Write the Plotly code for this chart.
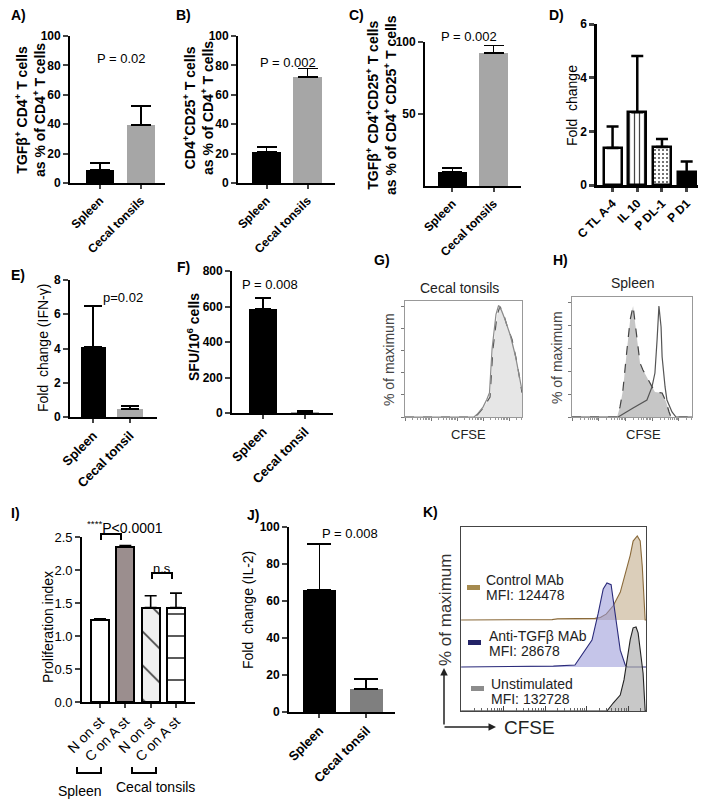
import numpy as np
import plotly.graph_objects as go

FONT = "Liberation Sans, Arial, sans-serif"
# the page body has an 8 px margin, so the figure is 8 px smaller than the window
PAD = 8
W, H = 706 - PAD, 799 - PAD

# ---- bar panel data ----
a_cats = ["Spleen", "Cecal tonsils"]
a_vals = [9.1, 39.3]
a_err = [4.3, 13.0]

b_cats = ["Spleen", "Cecal tonsils"]
b_vals = [20.9, 72.3]
b_err = [3.6, 5.6]

c_cats = ["Spleen", "Cecal tonsils"]
c_vals = [10.0, 92.3]
c_err = [2.7, 5.3]

d_cats = ["C TL A-4", "IL 10", "P DL-1", "P D1"]
d_vals = [1.38, 2.71, 1.42, 0.47]
d_err = [0.80, 2.10, 0.29, 0.41]

e_cats = ["Spleen", "Cecal tonsil"]
e_vals = [4.1, 0.47]
e_err = [2.4, 0.19]

f_cats = ["Spleen", "Cecal tonsil"]
f_vals = [586, 5]
f_err = [64, 8]

i_cats = ["N on st", "C on A st", "N on st", "C on A st"]
i_vals = [1.24, 2.35, 1.43, 1.43]
i_err = [0.02, 0.02, 0.18, 0.22]

j_cats = ["Spleen", "Cecal tonsil"]
j_vals = [66.0, 12.3]
j_err = [24.8, 5.4]

# ---- CFSE histograms: log10 intensity vs % of maximum ----
g_dash_logx = [1.0, 3.69, 3.81, 4.0, 4.19, 4.27, 4.38, 4.54, 4.65, 4.77, 4.92, 5.12, 5.31, 5.46, 5.5]
g_dash_y = [0, 0, 2.7, 8, 15, 18, 61, 92, 100, 95, 83, 70, 49, 27, 22]
g_solid_logx = [1.0, 3.65, 3.80, 4.0, 4.15, 4.25, 4.35, 4.50, 4.60, 4.70, 4.85, 5.05, 5.25, 5.45, 5.5]
g_solid_y = [0, 0, 3, 9, 16, 22, 62, 93, 101, 97, 88, 74, 55, 30, 24]

h_dash_logx = [1.0, 2.69, 2.80, 2.91, 3.06, 3.18, 3.29, 3.40, 3.44, 3.55, 3.66, 3.85, 4.11, 4.38, 4.53, 4.64, 4.71, 5.5]
h_dash_y = [0, 0, 8.8, 23.6, 58.6, 84.9, 97.1, 76.1, 70, 47.3, 41.1, 32.4, 21.9, 21, 13.1, 4.4, 0, 0]
h_solid_logx = [1.0, 2.73, 3.29, 3.81, 4.0, 4.11, 4.19, 4.23, 4.26, 4.34, 4.38, 4.49, 4.56, 4.75, 4.90, 5.5]
h_solid_y = [0, 0, 7.9, 14.9, 26.3, 38.5, 67.4, 93.6, 97.1, 78.8, 52.5, 26.3, 14.9, 4.4, 0, 0]

k_ctrl_logx = [0.98, 3.17, 3.3, 3.80, 3.96, 4.20, 4.33, 4.47, 4.64, 4.81, 5.05, 5.12, 5.22, 5.29, 5.34, 5.41, 5.43]
k_ctrl_y = [0, 0.5, 1.5, 1.5, 2, 2, 3, 7, 17, 33, 77, 94, 100, 94, 64, 0, 0]
k_anti_logx = [0.98, 2.71, 3.2, 3.72, 3.96, 4.13, 4.28, 4.40, 4.49, 4.59, 4.64, 4.73, 4.81, 4.93, 4.98, 5.43]
k_anti_y = [0, 1, 1, 2.4, 20, 32, 64, 93, 100, 98, 80, 48, 20, 2.4, 0, 0]
k_unst_logx = [0.98, 4.49, 4.64, 4.81, 4.90, 4.98, 5.05, 5.12, 5.19, 5.24, 5.31, 5.36, 5.41, 5.43]
k_unst_y = [0, 0, 9.5, 19, 37, 61, 85, 99, 100, 93, 61, 45, 0, 0]

k_labels = [("Control MAb", "MFI: 124478"), ("Anti-TGF\u03b2 MAb", "MFI: 28678"), ("Unstimulated", "MFI: 132728")]


def fx(px):
    return (px - PAD) / W


def fy(py):
    return 1 - (py - PAD) / H


fig = go.Figure()
layout = {}
annotations = []
shapes = []


def note(text, x, y, size=13, bold=False, angle=0, xanchor="center", color="black"):
    annotations.append(dict(text=text, x=fx(x), y=fy(y), xref="paper", yref="paper",
                            showarrow=False, textangle=angle, xanchor=xanchor, yanchor="middle",
                            font=dict(family=FONT, size=size, color=color,
                                      weight="bold" if bold else "normal")))


def bar_panel(n, cats, vals, err, box, xr, yr, yticks, colors, bw, cap,
              lw=1.8, tickbold=True, xsize=12, ysize=12, yfmt=None, outline=0, pattern=None):
    x0, x1, ytop, ybot = box
    sfx = "" if n == 1 else str(n)
    xs = list(range(len(cats)))
    marker = dict(color=colors, line=dict(color="black", width=outline))
    if pattern:
        marker["pattern"] = pattern
    fig.add_trace(go.Bar(
        x=xs, y=vals, width=bw, marker=marker,
        error_y=dict(type="data", array=err, arrayminus=[0] * len(err), symmetric=False,
                     color="black", thickness=lw, width=cap),
        xaxis="x" + sfx, yaxis="y" + sfx,
    ))
    wt = "bold" if tickbold else "normal"
    layout["xaxis" + sfx] = dict(
        domain=[fx(x0), fx(x1)], range=xr, anchor="y" + sfx, automargin=False,
        tickvals=xs, ticktext=cats, tickangle=-45,
        tickfont=dict(family=FONT, size=xsize, color="black", weight=wt),
        showline=True, linecolor="black", linewidth=lw, ticks="outside",
        ticklen=4, tickwidth=lw, showgrid=False, zeroline=False,
    )
    ya = dict(
        domain=[fy(ybot), fy(ytop)], range=yr, anchor="x" + sfx, tickvals=yticks,
        automargin=False,
        tickfont=dict(family=FONT, size=ysize, color="black", weight=wt),
        showline=True, linecolor="black", linewidth=lw, ticks="outside",
        ticklen=5, tickwidth=lw, showgrid=False, zeroline=False,
    )
    if yfmt:
        ya["tickformat"] = yfmt
    layout["yaxis" + sfx] = ya


GRAY = "#a6a6a6"

# A, B, C
bar_panel(1, a_cats, a_vals, a_err, (70, 165, 36, 183), [-0.73, 1.59], [0, 100],
          [0, 20, 40, 60, 80, 100], ["black", GRAY], 0.68, 10)
bar_panel(2, b_cats, b_vals, b_err, (238, 335, 36, 183), [-0.695, 1.67], [0, 100],
          [0, 20, 40, 60, 80, 100], ["black", GRAY], 0.71, 10)
bar_panel(3, c_cats, c_vals, c_err, (425, 521, 42, 186), [-0.67, 1.67], [0, 100],
          [50, 100], ["black", GRAY], 0.71, 10)
# D
bar_panel(4, d_cats, d_vals, d_err, (597, 701, 24, 185), [-0.63, 3.58], [0, 6],
          [0, 2, 4, 6], ["white", "white", "white", "black"], 0.73, 6, lw=2.5, outline=2.5,
          pattern=dict(shape=["", "|", ".", ""], size=[5, 5, 4, 5], solidity=[0.2, 0.25, 0.2, 0.2],
                       fillmode="overlay", fgcolor="black", fgopacity=1))
# E, F
bar_panel(5, e_cats, e_vals, e_err, (70, 157, 280, 417), [-0.64, 1.74], [0, 8],
          [0, 2, 4, 6, 8], ["black", "#a9a9a9"], 0.70, 9, xsize=13)
bar_panel(6, f_cats, f_vals, f_err, (232, 333, 271, 413), [-0.74, 1.67], [0, 800],
          [0, 200, 400, 600, 800], ["black", "#aaaaaa"], 0.67, 8, xsize=13)
# I
bar_panel(9, i_cats, i_vals, i_err, (82, 195, 537, 702), [-0.71, 3.75], [0, 2.5],
          [0, 0.5, 1.0, 1.5, 2.0, 2.5], ["white", "#9b8e8e", "#f0f0f0", "white"], 0.71, 6,
          lw=1.6, tickbold=False, xsize=14, ysize=13, yfmt=".1f", outline=2,
          pattern=dict(shape=["", "", "\\", "-"], size=[8, 8, 24, 22], solidity=[0.1, 0.1, 0.07, 0.08],
                       fillmode="overlay", fgcolor="black", fgopacity=1))
# J
bar_panel(10, j_cats, j_vals, j_err, (289, 395, 527, 712), [-0.65, 1.61], [0, 100],
          [0, 20, 40, 60, 80, 100], ["black", "#7f7f7f"], 0.70, 12, xsize=13)

# ---- G and H histograms ----
minor_vals = [m * 10 ** d for d in range(1, 6) for m in range(2, 10)]
for n, box, curves in [
    (7, (405, 522, 301, 417), [(g_dash_logx, g_dash_y, "#e6e6e6", "#555555", "dash"),
                               (g_solid_logx, g_solid_y, None, "#8a8a8a", "solid")]),
    (8, (572, 692, 297, 417), [(h_dash_logx, h_dash_y, "#c6c6c6", "#444444", "dash"),
                               (h_solid_logx, h_solid_y, None, "#555555", "solid")]),
]:
    x0, x1, ytop, ybot = box
    for lx, yv, fill, lc, dash in curves:
        fig.add_trace(go.Scatter(
            x=10 ** np.array(lx), y=yv, mode="lines",
            line=dict(color=lc, width=1.2, dash=dash),
            fill="tozeroy" if fill else "none", fillcolor=fill,
            xaxis="x%d" % n, yaxis="y%d" % n,
        ))
    layout["xaxis%d" % n] = dict(
        domain=[fx(x0), fx(x1)], type="log", range=[1, 5.5], anchor="y%d" % n,
        automargin=False,
        showline=True, mirror=True, linecolor="#999999", linewidth=1,
        tickvals=[10, 100, 1000, 1e4, 1e5], showticklabels=False, ticks="outside",
        ticklen=3, tickcolor="#777777",
        minor=dict(tickvals=minor_vals, ticks="outside", ticklen=2, tickcolor="#999999"),
        showgrid=False, zeroline=False,
    )
    layout["yaxis%d" % n] = dict(
        domain=[fy(ybot), fy(ytop)], range=[0, 105], anchor="x%d" % n,
        automargin=False,
        showline=True, mirror=True, linecolor="#999999", linewidth=1,
        tickvals=[0, 20, 40, 60, 80, 100], showticklabels=False, ticks="outside",
        ticklen=3, tickcolor="#777777", showgrid=False, zeroline=False,
    )

# ---- K stacked histograms ----
k_base = [108.3, 52.4, 0]
k_style = [("rgba(190,165,130,0.55)", "#8a6a3a"),
           ("rgba(150,150,215,0.55)", "#2a2a7a"),
           ("rgba(170,170,170,0.65)", "#222222")]
for (lx, yv), base, (fc, lc) in zip([(k_ctrl_logx, k_ctrl_y), (k_anti_logx, k_anti_y),
                                     (k_unst_logx, k_unst_y)], k_base, k_style):
    fig.add_trace(go.Scatter(
        x=10 ** np.array(lx), y=np.array(yv) + base, mode="lines",
        line=dict(color=lc, width=1.1), fill="toself", fillcolor=fc,
        xaxis="x11", yaxis="y11",
    ))
layout["xaxis11"] = dict(
    domain=[fx(461), fx(646)], type="log", range=[0.976, 5.43], anchor="y11",
    automargin=False,
    showline=True, mirror=True, linecolor="#444444", linewidth=1,
    tickvals=[10, 100, 1000, 1e4, 1e5], showticklabels=False, ticks="inside", ticklen=5,
    tickcolor="#444444",
    minor=dict(tickvals=minor_vals, ticks="inside", ticklen=3, tickcolor="#666666"),
    showgrid=False, zeroline=False,
)
layout["yaxis11"] = dict(
    domain=[fy(711), fy(527)], range=[0, 219], anchor="x11", automargin=False,
    showline=True, mirror=True, linecolor="#444444", linewidth=1,
    showticklabels=False, ticks="", showgrid=False, zeroline=False,
)

# K legend swatches and text
for (name, mfi), (x0, y0, c), (tx, ty) in zip(
        k_labels,
        [(467, 585, "#a58a4e"), (468, 640, "#222266"), (471, 686, "#8c8c8c")],
        [(484, 580), (487, 636), (489, 684)]):
    shapes.append(dict(type="rect", xref="paper", yref="paper", x0=fx(x0), x1=fx(x0 + 13),
                       y0=fy(y0 + 5), y1=fy(y0), fillcolor=c, line=dict(width=0)))
    note(name, tx, ty, size=14, xanchor="left", color="#222222")
    note(mfi, tx, ty + 15, size=14, xanchor="left", color="#222222")

# K arrows
annotations.append(dict(x=fx(444), y=fy(668), ax=0, ay=58, xref="paper", yref="paper",
                        text="", showarrow=True, arrowhead=2, arrowsize=1, arrowwidth=1.5,
                        arrowcolor="#222222"))
annotations.append(dict(x=fx(496), y=fy(727), ax=-53, ay=0, xref="paper", yref="paper",
                        text="", showarrow=True, arrowhead=2, arrowsize=1, arrowwidth=1.5,
                        arrowcolor="#222222"))
note("CFSE", 529, 727, size=19, color="#222222")
note("% of maximum", 445, 610, size=17, angle=-90, color="#333333")

# ---- axis titles ----
note("TGF\u03b2<sup>+</sup> CD4<sup>+</sup> T cells<br>as % of CD4<sup>+</sup> T cells", 30, 110,
     size=14, bold=True, angle=-90)
note("CD4<sup>+</sup>CD25<sup>+</sup> T cells<br>as % of CD4<sup>+</sup> T cells", 198, 108,
     size=14, bold=True, angle=-90)
note("TGF\u03b2<sup>+</sup> CD4<sup>+</sup>CD25<sup>+</sup> T cells<br>"
     "as % of CD4<sup>+</sup> CD25<sup>+</sup> T cells", 381, 105, size=14, bold=True, angle=-90)
note("Fold  change", 572, 106, size=14, angle=-90)
note("Fold  change (IFN-\u03b3)", 43, 348, size=14, angle=-90)
note("SFU/10<sup>6</sup> cells", 193, 337, size=14, bold=True, angle=-90)
note("Proliferation index", 48, 627, size=14, angle=-90)
note("Fold  change (IL-2)", 248, 610, size=14, angle=-90)
note("% of maximum", 389, 360, size=14, angle=-90, color="#444444")
note("% of maximum", 557, 358, size=14, angle=-90, color="#444444")

# ---- p values ----
note("P = 0.02", 121, 59, size=13)
note("P = 0.002", 288, 63, size=13)
note("P = 0.002", 469, 37, size=13)
note("p=0.02", 101, 298, size=13, xanchor="left")
note("P = 0.008", 270, 284, size=13)
note("P = 0.008", 350, 533, size=13)

# ---- histogram titles and axis labels ----
note("Cecal tonsils", 459, 288, size=14, color="#222222")
note("Spleen", 633, 283, size=14, color="#222222")
note("CFSE", 468, 434, size=13, color="#222222")
note("CFSE", 643, 434, size=13, color="#222222")

# ---- panel I decorations ----
note("<sup>****</sup>P&lt;0.0001", 125, 527, size=14)
note("n.s", 162, 568, size=13)
for xa, xb, yl, yb in [(101, 121, 534, 540), (152, 172, 573, 579)]:
    shapes.append(dict(type="path", xref="paper", yref="paper", line=dict(color="black", width=2),
                       path="M %f %f L %f %f L %f %f L %f %f" % (
                           fx(xa), fy(yb), fx(xa), fy(yl), fx(xb), fy(yl), fx(xb), fy(yb))))
for xa, xb in [(77, 101), (132, 156)]:
    shapes.append(dict(type="path", xref="paper", yref="paper", line=dict(color="black", width=2),
                       path="M %f %f L %f %f L %f %f L %f %f" % (
                           fx(xa), fy(767), fx(xa), fy(773), fx(xb), fy(773), fx(xb), fy(767))))
note("Spleen", 80, 791, size=14)
note("Cecal tonsils", 155, 787, size=14)

# ---- panel letters ----
for lab, x, y in [("A)", 9, 15), ("B)", 174, 15), ("C)", 347, 15), ("D)", 547, 15),
                  ("E)", 9, 275), ("F)", 175, 267), ("G)", 372, 260), ("H)", 551, 260),
                  ("I)", 9, 513), ("J)", 245, 515), ("K)", 421, 512)]:
    note(lab, x, y, size=14, bold=True, xanchor="left")

layout.update(width=W, height=H, margin=dict(l=0, r=0, t=0, b=0, autoexpand=False),
              paper_bgcolor="white", plot_bgcolor="white", showlegend=False,
              font=dict(family=FONT, color="black"), bargap=0,
              annotations=annotations, shapes=shapes)
fig.update_layout(**layout)
fig.write_html("out.html")
